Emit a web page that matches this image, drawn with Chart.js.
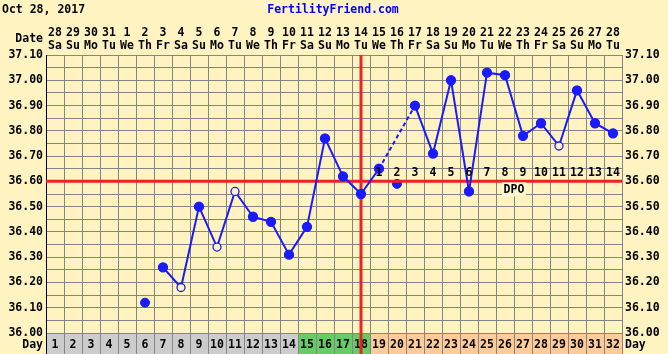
<!DOCTYPE html>
<html>
<head>
<meta charset="utf-8">
<script src="https://cdn.jsdelivr.net/npm/chart.js@4"></script>
<style>
  body { margin: 0; background: #fff3c2; }
  canvas { display: block; }
</style>
</head>
<body>
<canvas id="bbtChart" width="668" height="354"></canvas>
<script>
// cycle info
const chartTitle = 'Oct 28, 2017';
const siteName = 'FertilityFriend.com';

const cycleDays = ['1','2','3','4','5','6','7','8','9','10','11','12','13','14','15','16',
                   '17','18','19','20','21','22','23','24','25','26','27','28','29','30','31','32'];
const dates = ['28','29','30','31','1','2','3','4','5','6','7','8','9','10','11','12',
               '13','14','15','16','17','18','19','20','21','22','23','24','25','26','27','28'];
const weekdays = ['Sa','Su','Mo','Tu','We','Th','Fr','Sa','Su','Mo','Tu','We','Th','Fr','Sa','Su',
                  'Mo','Tu','We','Th','Fr','Sa','Su','Mo','Tu','We','Th','Fr','Sa','Su','Mo','Tu'];

const temps = [null, null, null, null, null, 36.12, 36.26, 36.18, 36.50, 36.34, 36.56, 36.46,
               36.44, 36.31, 36.42, 36.77, 36.62, 36.55, 36.65, 36.59, 36.90, 36.71, 37.00, 36.56,
               37.03, 37.02, 36.78, 36.83, 36.74, 36.96, 36.83, 36.79];

const openDays = [8, 10, 11, 29];        // hollow markers
const discardedDays = [6, 20];           // not joined to the line
const fertileDays = [15, 16, 17, 18];
const lutealStart = 19;
const ovulationDay = 18;
const coverline = 36.60;
const dpoLabels = ['1','2','3','4','5','6','7','8','9','10','11','12','13','14'];

const BG     = '#fff3c2';
const GRID   = '#858585';
const BLUE   = '#1a1aff';
const RED    = '#ee2222';
const GRAY   = '#cccccc';
const GREEN  = '#66cc66';
const ORANGE = '#ffcc99';
const FAMILY = "'DejaVu Sans Mono', monospace";
const FONT   = "bold 11.5px " + FAMILY;

const isOpen = d => openDays.includes(d);
const isDiscarded = d => discardedDays.includes(d);

const lineTemps = temps.map((t, i) => isDiscarded(i + 1) ? null : t);
const looseTemps = temps.map((t, i) => isDiscarded(i + 1) ? t : null);

const tickLabel = v => Math.round(v * 100) % 10 === 0 ? v.toFixed(2) : '';
const skipped = (c, value) => c.p0.skip || c.p1.skip ? value : undefined;

// ── extras drawn round the plot ──
const fertilityPlugin = {
    id: 'fertility',
    beforeDraw(chart) {
        const ctx = chart.ctx;
        ctx.save();
        ctx.fillStyle = BG;
        ctx.fillRect(0, 0, chart.width, chart.height);
        ctx.restore();
    },
    beforeDatasetsDraw(chart) {
        const { ctx, chartArea: a, scales: { x } } = chart;
        const colW = x.getPixelForValue(1) - x.getPixelForValue(0);
        ctx.save();
        ctx.font = FONT;
        ctx.textBaseline = 'middle';

        // header
        ctx.fillStyle = '#000';
        ctx.textAlign = 'left';
        ctx.fillText(chartTitle, 2, 10);
        ctx.fillStyle = '#0000ff';
        ctx.textAlign = 'center';
        ctx.fillText(siteName, 333, 10);
        ctx.fillStyle = '#000';
        ctx.textAlign = 'right';
        ctx.fillText('Date', a.left - 3, 39);
        ctx.textAlign = 'center';
        cycleDays.forEach((d, i) => {
            const px = x.getPixelForValue(i);
            ctx.fillText(dates[i], px, 33);
            ctx.fillText(weekdays[i], px, 46);
        });

        // day row
        const top = a.bottom, h = chart.height - a.bottom;
        cycleDays.forEach((d, i) => {
            const day = i + 1;
            const px = x.getPixelForValue(i);
            ctx.fillStyle = fertileDays.includes(day) ? GREEN : (day >= lutealStart ? ORANGE : GRAY);
            ctx.fillRect(px - colW / 2, top, colW, h);
            ctx.strokeStyle = GRID;
            ctx.lineWidth = 1;
            ctx.strokeRect(Math.round(px - colW / 2) + 0.5, top + 0.5, colW, h);
            ctx.fillStyle = '#000';
            ctx.fillText(d, px, top + 12);
        });
        ctx.textAlign = 'right';
        ctx.fillText('Day', a.left - 3, top + 12);
        ctx.textAlign = 'left';
        ctx.fillText('Day', a.right + 3, top + 12);

        // left border
        ctx.strokeStyle = '#000';
        ctx.beginPath();
        ctx.moveTo(a.left + 0.5, a.top);
        ctx.lineTo(a.left + 0.5, chart.height);
        ctx.stroke();
        ctx.restore();
    },
    beforeDatasetDraw(chart, args) {
        if (args.index !== 0) return;
        // coverline + ovulation line, over the loose points but under the main line
        const { ctx, chartArea: a, scales: { x, y } } = chart;
        ctx.save();
        ctx.strokeStyle = RED;
        ctx.lineWidth = 3;
        const cy = y.getPixelForValue(coverline);
        ctx.beginPath();
        ctx.moveTo(a.left, cy);
        ctx.lineTo(a.right, cy);
        ctx.stroke();
        const ox = x.getPixelForValue(ovulationDay - 1);
        ctx.beginPath();
        ctx.moveTo(ox, a.top);
        ctx.lineTo(ox, chart.height);
        ctx.stroke();
        ctx.restore();
    },
    afterDatasetsDraw(chart) {
        const { ctx, scales: { x, y } } = chart;
        ctx.save();
        ctx.font = FONT;
        ctx.textAlign = 'center';
        ctx.textBaseline = 'middle';
        const ly = y.getPixelForValue(coverline) - 8;
        ctx.fillStyle = '#000';
        dpoLabels.forEach((lab, i) => {
            ctx.fillText(lab, x.getPixelForValue(lutealStart - 1 + i), ly);
        });
        const dx = x.getPixelForValue(25.5), dy = y.getPixelForValue(coverline) + 8;
        ctx.fillStyle = '#fff7d2';
        ctx.fillRect(dx - 12, dy - 7, 24, 14);
        ctx.fillStyle = '#000';
        ctx.fillText('DPO', dx, dy + 1);
        ctx.restore();
    }
};

const yScale = {
    min: 36.00,
    max: 37.10,
    grid: { color: GRID, drawTicks: false },
    border: { display: false },
    ticks: {
        stepSize: 0.05,
        autoSkip: false,
        padding: 3,
        color: '#000',
        font: { family: FAMILY, size: 11.5, weight: 'bold' },
        callback: tickLabel
    },
    afterFit: s => { s.width = 46; }
};

new Chart(document.getElementById('bbtChart'), {
    type: 'line',
    data: {
        labels: cycleDays,
        datasets: [
            {
                label: 'Temperature',
                data: lineTemps,
                borderColor: BLUE,
                borderWidth: 2,
                spanGaps: true,
                tension: 0,
                pointRadius: cycleDays.map((d, i) => isOpen(i + 1) ? 4 : 4.5),
                pointBackgroundColor: cycleDays.map((d, i) => isOpen(i + 1) ? BG : BLUE),
                pointBorderColor: BLUE,
                pointBorderWidth: 1.3,
                segment: {
                    borderDash: c => skipped(c, [4, 3])
                }
            },
            {
                label: 'Discarded',
                data: looseTemps,
                showLine: false,
                pointRadius: 4.5,
                pointBackgroundColor: BLUE,
                pointBorderColor: BLUE
            }
        ]
    },
    options: {
        responsive: false,
        animation: false,
        layout: { padding: { top: 55, left: 0, right: 0, bottom: 0 }, autoPadding: false },
        plugins: { legend: { display: false }, tooltip: { enabled: false } },
        scales: {
            x: {
                offset: true,
                grid: { offset: true, color: GRID, drawTicks: false },
                border: { display: false },
                ticks: { display: false },
                afterFit: s => { s.height = 21; }
            },
            y: Object.assign({}, yScale, { position: 'left' }),
            y2: Object.assign({}, yScale, {
                position: 'right',
                grid: { display: false, drawTicks: false }
            })
        }
    },
    plugins: [fertilityPlugin]
});
</script>
</body>
</html>
